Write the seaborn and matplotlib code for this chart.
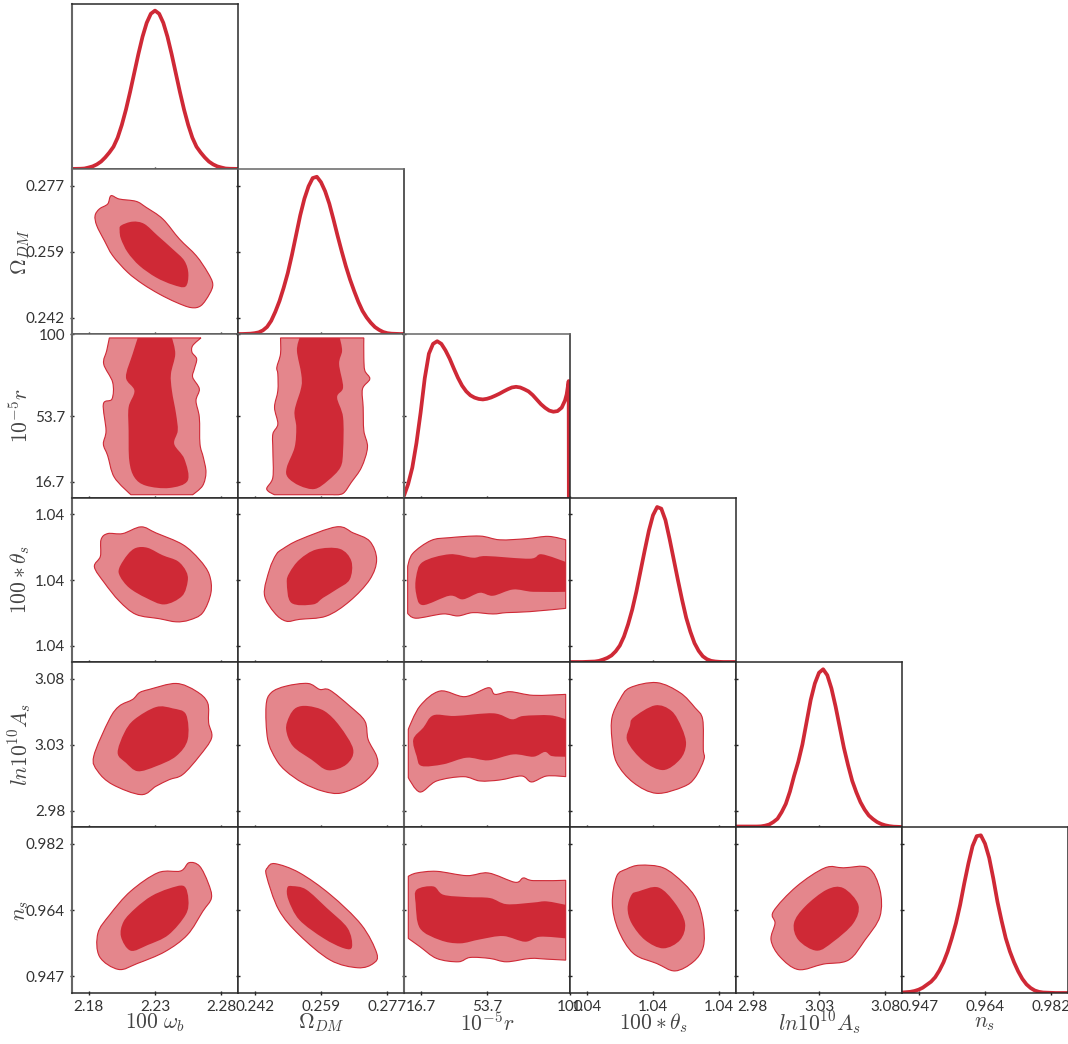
import matplotlib
matplotlib.use("Agg")
import matplotlib.pyplot as plt
from matplotlib.path import Path
from matplotlib.patches import PathPatch
import seaborn as sns

# every parameter is read as percent of its panel width/height, the tick
# labels below carry the real values
names = ["$100\\ \\omega_b$", "$\\Omega_{DM}$", "$10^{-5}r$", "$100*\\theta_s$", "$ln10^{10}A_s$", "$n_s$"]
tick_labels = [
    ["2.18", "2.23", "2.28"],
    ["0.242", "0.259", "0.277"],
    ["16.7", "53.7", "100"],
    ["1.04", "1.04", "1.04"],
    ["2.98", "3.03", "3.08"],
    ["0.947", "0.964", "0.982"],
]
tick_pos = [[10, 50, 90], [10, 50, 90], [10, 50, 100], [10, 50, 90], [10, 50, 90], [10, 50, 90]]

# 1d posteriors, read every 2.5 percent
grid = [0, 2.5, 5, 7.5, 10, 12.5, 15, 17.5, 20, 22.5, 25, 27.5, 30, 32.5, 35, 37.5, 40, 42.5, 45, 47.5, 50,
        52.5, 55, 57.5, 60, 62.5, 65, 67.5, 70, 72.5, 75, 77.5, 80, 82.5, 85, 87.5, 90, 92.5, 95, 97.5, 100]
wb_y = [0.05, 0.1, 0.15, 0.3, 0.9, 1.6, 2.8, 4.5, 7, 10, 13.5, 19, 26.7, 36, 46.7, 58.2, 69.7, 80.2, 88.6, 94.1, 96,
        94.1, 88.6, 80.2, 69.7, 58.2, 46.7, 36, 26.7, 19, 13.5, 10, 7, 4.5, 2.8, 1.6, 0.9, 0.3, 0.15, 0.1, 0.05]
om_y = [0, 0, 0.1, 0.2, 0.5, 1, 2.2, 4.3, 8, 13.5, 20, 28, 37, 48, 60, 72, 82, 89.5, 94.5, 95.3, 92,
        86.5, 79, 69.5, 59.5, 50, 41, 33, 26, 19.5, 14, 10, 6.8, 4.2, 2.5, 1.2, 0.5, 0.2, 0.1, 0, 0]
th_y = [0, 0, 0, 0, 0.1, 0.2, 0.3, 0.7, 1.5, 2.5, 4, 6.5, 10, 15.5, 23, 32, 43, 55.5, 68, 80, 89.5,
        94.5, 93.5, 86.5, 75, 62.5, 50, 38, 27, 18.5, 11.5, 6.8, 3.5, 1.7, 0.7, 0.3, 0.1, 0, 0, 0, 0]
as_y = [0.3, 0.3, 0.3, 0.3, 0.3, 0.3, 0.4, 0.8, 1.5, 3, 5, 9, 14, 21.5, 31, 39.5, 50, 63.5, 77, 87, 93.5,
        95.6, 92, 84, 73, 60.5, 48, 37.5, 28, 21, 15, 10.5, 7, 4.8, 3, 1.8, 1, 0.5, 0.2, 0.1, 0]
ns_y = [0.3, 0.5, 0.7, 1.2, 2, 3.2, 5, 6.8, 9.5, 13.5, 18.5, 25, 33, 42, 53, 66, 78, 88.5, 94.5, 95, 90,
        81.5, 69, 55, 43.5, 33, 25, 18.5, 13, 8.5, 5.2, 3, 1.5, 0.7, 0.3, 0.2, 0.1, 0, 0, 0, 0]
r_x = [0, 2.5, 5, 7.5, 10, 12.5, 15, 17.5, 20, 22.5, 25, 27.5, 30, 32.5, 35, 37.5, 40, 42.5, 45, 47.5, 50,
       52.5, 55, 57.5, 60, 62.5, 65, 67.5, 70, 72.5, 75, 77.5, 80, 82.5, 85, 87.5, 90, 92.5, 95, 97, 98, 99.2, 99.3]
r_y = [1.4, 8.5, 18.5, 33.5, 52, 73, 88, 94, 95.6, 94, 90, 85, 79, 73.3, 68.5, 65, 62.6, 61.2, 60.4, 60.1, 60.5,
       61.3, 62.4, 63.6, 65, 66.3, 67.4, 67.8, 67.4, 66.3, 65, 62.8, 60, 57.2, 55, 53.3, 52.6, 53, 55.1, 59.5, 63.2, 71.3, 0]

# 2d contours (x param, y param), outer = 95%, inner = 68%
om_wb_out = [(23.5,83.8),(28.5,81.8),(38.6,80.4),(44.6,76.8),(54.7,69.7),(64.7,57.6),(74.8,47.5),(81.7,37.4),(84.8,30.3),(82.8,24.2),(77.7,17.2),(71.7,16),(62.7,19.2),(52.6,24.2),(42.6,30.3),(33.5,37.4),(24.5,47.5),(19.5,56.6),(14.9,65.7),(13.9,71.7),(16.5,75.8),(21.5,78.8)]
om_wb_in = [(29.5,65.7),(36.5,68.1),(43.6,66.7),(51.6,59.6),(60.6,51.5),(67.7,44.4),(70.1,36.4),(68.3,28.7),(60.6,29.9),(50.6,34.3),(40.6,41.4),(33.5,49.5),(29.5,57.6),(28.7,62.6)]

r_wb_out = [(22.5,97.6),(77.7,97.6),(72.7,92.9),(72.3,88.8),(75.1,84.8),(73.7,78.7),(72.7,73.6),(76.7,66.5),(74.7,59.3),(76.7,49.2),(77.1,32.9),(79.1,24.8),(80.7,15.7),(78.7,7.5),(72.7,2),(35.5,2),(25.5,12.6),(21.5,25.8),(18.9,32.9),(20.5,41.1),(18.9,57.3),(24.1,60.4),(24.5,70.5),(19.1,81.7),(20.9,89.8)]
r_wb_in = [(39.6,97.6),(60.2,97.6),(62.2,87.8),(59.6,75.6),(60.2,65.4),(62.7,51.2),(63.7,41.1),(61.6,32.9),(67.7,23.8),(69.7,10.6),(58.6,6.1),(44.6,7.5),(37.6,12.6),(34.5,22.8),(34.1,41.1),(34.1,55.3),(37.6,65.4),(32.5,73.6),(36.5,87.8)]
r_om_out = [(25.6,97.6),(75.8,97.6),(75.8,85.8),(76.4,77.7),(79.4,72.6),(75,66.5),(75.4,55.3),(75.8,41.1),(78,30.9),(74.4,18.7),(68.3,9.6),(63.3,2.8),(57.3,2),(22,2),(17.3,5.5),(21,12.6),(21,28.9),(21,39),(24,45.1),(22,55.3),(24,65.4),(24,75.6),(23.4,79.7),(25.6,87.8)]
r_om_in = [(37.1,97.6),(61.3,97.6),(62.7,89.8),(60.9,81.7),(63.3,67.5),(59.7,61.4),(63.3,49.2),(63.3,28.9),(61.7,18.7),(54.2,10.6),(46.2,5.5),(37.1,7.5),(30,12.6),(29.4,18.7),(34.1,30.9),(35.1,43.1),(34.1,53.3),(38.1,67.5),(38.1,75.6),(35.5,89.8)]

th_wb_out = [(21.5,78.3),(30.5,78.3),(41.6,82.4),(50.6,78.7),(66.7,71.6),(76.7,62.5),(82.7,53.3),(83.7,42.2),(78.7,30),(70.7,25.6),(62.7,24.5),(52.6,26.4),(38.6,29),(28.5,37.1),(19.5,48.3),(13.5,58),(17.1,64.5),(17.5,74.6)]
th_wb_in = [(38.6,69.6),(45.6,69.6),(54.6,65.1),(63.7,61.5),(68.7,55.4),(69.7,49.3),(66.3,40.2),(55.6,35.1),(44.6,39.1),(34.5,45.2),(28.9,52.3),(28.5,57.4),(33.5,65.5)]
th_om_out = [(27,69),(37.1,74.6),(59.3,82.4),(69.4,78.7),(79.4,73.6),(83.5,62.5),(79.4,50.3),(67.3,37.1),(53.2,28),(37.1,26),(29,24.9),(22,30),(15.9,41.2),(19,56.4),(23,65.5)]
th_om_in = [(37.1,62.5),(47.2,68.6),(61.3,69),(68.3,61.5),(67.3,50.3),(59.3,44.2),(51.2,39.1),(45.2,35.1),(32.1,36.1),(29.4,48.3),(31,54.4)]
th_r_out = [(2.2,58),(5.2,66.1),(16.3,74.1),(27.4,75.8),(45.6,76.8),(57.7,74.5),(73.8,75.2),(86.9,76.6),(97.4,74.5),(97.4,32.7),(75.8,30.7),(61.7,30.1),(53.6,29.3),(41.5,30.1),(32.5,28.1),(23.4,29.3),(7.3,26.7),(2.2,29.7)]
th_r_in = [(7.3,51.9),(11.3,61),(27.4,65.7),(41.5,63.6),(49.6,64.6),(75.8,63),(82.9,65.7),(97.4,61),(97.4,42.8),(77.8,42.8),(65.7,44.2),(53.6,40.4),(45.6,42.2),(35.5,38.2),(27.4,40.4),(11.3,34.7),(7.3,41.8)]

as_wb_out = [(40.6,81.4),(46.6,83.4),(62.7,87),(74.7,82.4),(81.7,75.3),(82.3,63.2),(84.1,54),(76.7,42.9),(66.7,31.8),(58.6,28.7),(50.6,24.7),(41.6,19.6),(24.5,25.7),(15.5,33.8),(13.1,42.9),(22.5,65.2),(28.5,73.3),(36.5,77.3)]
as_wb_in = [(37.6,65.2),(50.6,72.7),(60.6,71.9),(68.7,68.2),(69.7,53),(62.7,42.9),(50.6,36.8),(39.6,33.8),(32.5,38.9),(27.5,44.9),(31.5,57.1)]
as_om_out = [(20,81.4),(29,85.4),(42.1,87),(49.2,83.4),(55.2,83),(67.3,73.3),(76.4,64.2),(78.4,53),(83.5,42.9),(83.5,35.8),(75.4,26.7),(62.3,20.6),(51.2,21.7),(39.1,26.7),(29,33.8),(23,40.9),(17.9,53),(16.9,73.3)]
as_om_in = [(35.1,72.3),(42.1,73.3),(52.2,70.2),(61.3,61.1),(69.4,47),(65.3,37.9),(54.2,34.4),(44.2,40.9),(33.1,49),(29,59.1),(31,67.2)]
as_r_out = [(2.6,59.2),(9.6,73.3),(21.7,82.4),(36.7,79),(50.8,84.4),(54.8,80.4),(63.9,82),(77.9,79.8),(97.4,80.4),(97.4,30.5),(85.9,30.9),(76.9,27.3),(70.9,30.9),(57.8,28.5),(45.8,27.9),(35.7,30.5),(19.7,27.9),(9.6,21.2),(2.6,29.9)]
as_r_in = [(5.6,53.1),(11.6,60.2),(17.7,67.7),(30.7,67.3),(53.8,68.9),(64.9,65.3),(71.9,67.3),(88,67.7),(97.4,65.3),(97.4,42.6),(89,43),(84.9,45.5),(77.9,42.6),(65.9,44),(50.8,40.4),(37.8,42),(23.7,38),(10.6,37),(7.6,43)]
as_th_out = [(36.1,84.4),(52.2,87.5),(66.3,81.4),(75.3,72.3),(79.9,65.3),(80.3,47.1),(80.7,41),(75.3,29.9),(68.3,24.4),(52.2,20.4),(38.2,26.9),(28.1,39),(25.3,53.1),(25.3,66.3),(30.1,77.4)]
as_th_in = [(38.2,66.3),(51.2,73.7),(61.2,70.3),(67.3,60.2),(69.9,50.1),(66.3,41),(56.2,34.5),(44.2,40),(34.5,52.1),(36.1,61.2)]

ns_wb_out = [(65.4,73.5),(70.5,78.5),(76.8,76.5),(82,66.4),(84,57.3),(78.8,49.2),(69.5,35),(56,24.9),(39.4,17.8),(28,14.2),(16.6,21.9),(15.6,36),(22.8,47.2),(35.3,61.3),(51.9,72.5)]
ns_wb_in = [(47.7,58.3),(58.1,62.8),(67.4,64.4),(70.1,56.3),(68.5,47.2),(58.1,35),(45.6,28.9),(35.3,25.5),(29.5,34),(31.1,43.1),(38.4,51.2)]
ns_om_out = [(22.4,77.9),(36.9,72.5),(55.6,59.3),(74.3,41.1),(83.6,23.9),(81.5,17.8),(72.2,15.2),(55.6,19.8),(36.9,35),(24.5,50.2),(17.2,70.4),(17.8,75.5)]
ns_om_in = [(32.8,64.4),(41.1,62.3),(53.5,51.2),(66,39.1),(68.7,27.9),(63.9,26.9),(51.5,33),(36.9,44.1),(30.3,56.3),(29.7,63.4)]
ns_r_out = [(2.6,70.3),(7.6,72.3),(19.7,73.3),(37.8,70.7),(50.8,72.3),(66.9,66.7),(71.9,69.3),(77.9,67.7),(97.4,67.9),(97.4,19.8),(85.9,20.4),(75.9,20.8),(61.8,18.8),(51.8,20.8),(39.8,21.4),(32.7,18.8),(19.7,20.8),(9.6,27.9),(2.6,32.9)]
ns_r_in = [(7.6,62.2),(17.7,64.2),(23.7,59.2),(37.8,57.8),(51.8,57.2),(61.8,53.5),(77.9,54.5),(85.9,55.2),(97.4,53.1),(97.4,32.9),(81.9,33.9),(72.9,30.9),(59.8,34.3),(45.8,32.3),(33.7,29.9),(21.7,31.9),(9.6,39),(7,54.1)]
ns_th_out = [(34.1,74.7),(42.2,77),(56.2,75.4),(68.3,66.3),(76.3,56.2),(80.3,42),(80.3,27.9),(74.3,18.8),(63.3,13.3),(52.2,17.8),(38.2,23.8),(29.1,38),(25.5,54.1),(28.1,70.3)]
ns_th_in = [(41.2,61.2),(53.2,63.6),(63.3,54.1),(69.3,42),(66.3,31.9),(56.2,26.9),(45.2,31.9),(37.1,42),(34.7,51.1),(37.1,59.2)]
ns_as_out = [(22.5,49.1),(36.5,64.2),(53.6,75.4),(64.7,75.4),(79.7,75.4),(86.7,62.2),(86.7,46.1),(77.7,31.9),(67.7,19.8),(52.6,17.4),(37.6,14.1),(26.5,21.8),(21.1,31.9),(23.5,42)]
ns_as_in = [(41.6,52.1),(54.6,62.2),(64.7,63.2),(73.7,53.1),(70.7,42),(58.6,30.9),(48.6,25.5),(37.6,31.9),(34.9,42)]

curves = [(grid, wb_y), (grid, om_y), (r_x, r_y), (grid, th_y), (grid, as_y), (grid, ns_y)]
contours = {
    (1, 0): (om_wb_out, om_wb_in),
    (2, 0): (r_wb_out, r_wb_in), (2, 1): (r_om_out, r_om_in),
    (3, 0): (th_wb_out, th_wb_in), (3, 1): (th_om_out, th_om_in), (3, 2): (th_r_out, th_r_in),
    (4, 0): (as_wb_out, as_wb_in), (4, 1): (as_om_out, as_om_in), (4, 2): (as_r_out, as_r_in), (4, 3): (as_th_out, as_th_in),
    (5, 0): (ns_wb_out, ns_wb_in), (5, 1): (ns_om_out, ns_om_in), (5, 2): (ns_r_out, ns_r_in), (5, 3): (ns_th_out, ns_th_in), (5, 4): (ns_as_out, ns_as_in),
}

RED = "#cf2936"
PINK = "#e4868c"
W, H = 1068, 1044
col_edges = [72, 238, 404, 570, 736, 902, 1068]
row_edges = [4, 169, 334, 498, 662, 827, 993]

sns.set_style("ticks")
plt.rcParams["font.family"] = ["Lato", "DejaVu Sans"]
plt.rcParams["mathtext.fontset"] = "cm"


def is_edge(p):
    # contour points cut off by the prior edge keep a sharp corner
    return p[0] > 97 or p[0] < 3 or p[1] > 97 or p[1] < 2.5


def smooth_path(pts):
    # closed bezier outline going through the read points
    n = len(pts)
    verts = [pts[0]]
    codes = [Path.MOVETO]
    for i in range(n):
        prev, p0, p1, nxt = pts[i - 1], pts[i], pts[(i + 1) % n], pts[(i + 2) % n]
        c1 = p0 if is_edge(p0) else (p0[0] + (p1[0] - prev[0]) / 6, p0[1] + (p1[1] - prev[1]) / 6)
        c2 = p1 if is_edge(p1) else (p1[0] - (nxt[0] - p0[0]) / 6, p1[1] - (nxt[1] - p0[1]) / 6)
        verts += [c1, c2, p1]
        codes += [Path.CURVE4, Path.CURVE4, Path.CURVE4]
    verts.append(pts[0])
    codes.append(Path.CLOSEPOLY)
    return Path(verts, codes)


fig = plt.figure(figsize=(W / 100, H / 100), dpi=100)

for row in range(6):
    for col in range(row + 1):
        l, r = col_edges[col], col_edges[col + 1]
        t, b = row_edges[row], row_edges[row + 1]
        ax = fig.add_axes([l / W, 1 - b / H, (r - l) / W, (b - t) / H])
        if row == col:
            sns.lineplot(x=curves[col][0], y=curves[col][1], ax=ax, sort=False, estimator=None,
                         color=RED, linewidth=2.7)
        else:
            outer, inner = contours[(row, col)]
            ax.add_patch(PathPatch(smooth_path(outer), facecolor=PINK, edgecolor=RED, linewidth=0.8))
            ax.add_patch(PathPatch(smooth_path(inner), facecolor=RED, edgecolor="none", zorder=3))
        ax.set_xlim(0, 100)
        ax.set_ylim(0, 100)
        ax.set_xticks(tick_pos[col])
        ax.set_yticks(tick_pos[row] if row > 0 else [])
        ax.tick_params(direction="inout", length=3, width=1, color="#222222", labelsize=11, labelcolor="#333333", pad=3.5)
        for side in ax.spines.values():
            side.set_linewidth(1.1)
            side.set_color("#2a2a2a")
        if col in (0, 2):
            ax.spines["left"].set_linewidth(1.5)
            ax.spines["left"].set_color("#666666")
        if row in (1, 2):
            ax.spines["top"].set_color("#666666")
        if row == 5:
            ax.set_xticklabels(tick_labels[col])
            ax.set_xlabel(names[col], fontsize=15.5, color="#444444", va="center")
            ax.xaxis.set_label_coords(0.5, -0.18)
        else:
            ax.set_xticklabels([])
        if col == 0 and row > 0:
            ax.set_yticklabels(tick_labels[row])
            ax.set_ylabel(names[row], fontsize=15.5, color="#444444", va="center")
            ax.yaxis.set_label_coords(-0.31, 0.5)
        else:
            ax.set_yticklabels([])

fig.savefig("out.png", dpi=100)
